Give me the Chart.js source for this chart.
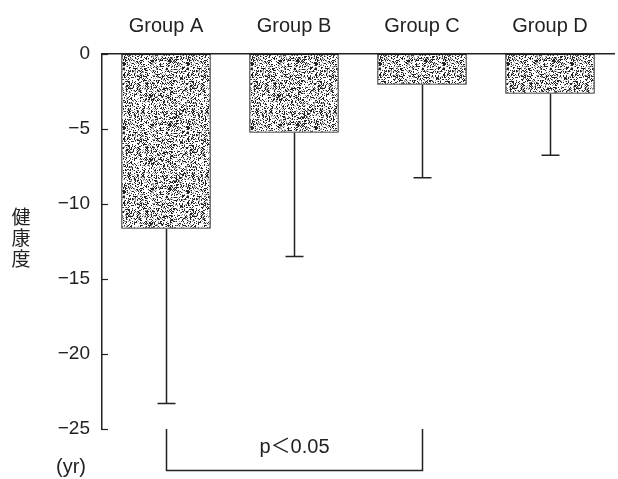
<!DOCTYPE html>
<html>
<head>
<meta charset="utf-8">
<script src="https://cdn.jsdelivr.net/npm/chart.js@4.4.1/dist/chart.umd.min.js"></script>
<style>
  html, body { margin: 0; padding: 0; background: #fff; }
  #wrap { width: 618px; height: 479px; position: relative; }
</style>
</head>
<body>
<div id="wrap"><canvas id="chart"></canvas></div>
<script>
// data
var groups = ["Group A", "Group B", "Group C", "Group D"];
var meanValues = [-11.65, -5.25, -2.05, -2.65];
var errorEnds = [-23.3, -13.5, -8.25, -6.75];
var yTicks = [0, -5, -10, -15, -20, -25];

// speckled fill like the printed stipple
function makeStipple() {
    var c = document.createElement("canvas");
    c.width = 64; c.height = 64;
    var g = c.getContext("2d");
    g.fillStyle = "#fff";
    g.fillRect(0, 0, 64, 64);
    var seed = 12345;
    function rnd() { seed = (seed * 1103515245 + 12345) & 0x7fffffff; return seed / 0x7fffffff; }
    for (var y = 0; y < 64; y++) {
        for (var x = 0; x < 64; x++) {
            var r = rnd();
            if (r < 0.26) { g.fillStyle = "#222"; g.fillRect(x, y, 1, 1); }
            else if (r < 0.40) { g.fillStyle = "#999"; g.fillRect(x, y, 1, 1); }
        }
    }
    return g.createPattern(c, "repeat");
}

function fmt(v) {
    return v < 0 ? "\u2212" + Math.abs(v) : String(v);
}

// error bars, inside ticks, side texts, significance bracket
var extras = {
    id: "extras",
    afterDatasetsDraw: function(chart) {
        var ctx = chart.ctx;
        var y = chart.scales.y;
        var meta = chart.getDatasetMeta(0);
        ctx.save();
        ctx.strokeStyle = "#222";
        ctx.lineWidth = 1.5;
        meta.data.forEach(function(bar, i) {
            var x = Math.round(bar.x) + 0.5;
            var y0 = y.getPixelForValue(meanValues[i]);
            var y1 = y.getPixelForValue(errorEnds[i]);
            ctx.beginPath();
            ctx.moveTo(x, y0); ctx.lineTo(x, y1);
            ctx.moveTo(x - 9, y1); ctx.lineTo(x + 9, y1);
            ctx.stroke();
        });

        // tick marks pointing into the plot
        ctx.lineWidth = 1.2;
        var ax = chart.chartArea.left;
        yTicks.forEach(function(t) {
            var py = Math.round(y.getPixelForValue(t)) + 0.5;
            ctx.beginPath();
            ctx.moveTo(ax, py); ctx.lineTo(ax + 6, py);
            ctx.stroke();
        });

        // y title, stacked characters
        ctx.fillStyle = "#222";
        ctx.font = "19px 'Noto Sans CJK JP'";
        ctx.textAlign = "center";
        ctx.textBaseline = "middle";
        ["健", "康", "度"].forEach(function(ch, i) {
            ctx.fillText(ch, 21, 217 + i * 21);
        });
        ctx.font = "20px 'Liberation Sans', Arial, sans-serif";
        ctx.fillText("(yr)", 71, 467);

        // bracket between A and C
        var xs = chart.scales.x;
        var xa = Math.round(xs.getPixelForValue(0)) + 0.5;
        var xc = Math.round(xs.getPixelForValue(2)) + 0.5;
        var top = chart.chartArea.bottom;
        var bot = 470.5;
        ctx.lineWidth = 1.5;
        ctx.beginPath();
        ctx.moveTo(xa, top); ctx.lineTo(xa, bot); ctx.lineTo(xc, bot); ctx.lineTo(xc, top);
        ctx.stroke();
        ctx.font = "20px 'Liberation Sans', 'Noto Sans CJK JP', sans-serif";
        ctx.fillText("p\uFF1C0.05", (xa + xc) / 2, 447);
        ctx.restore();
    }
};

var ctx = document.getElementById("chart").getContext("2d");
var chart = new Chart(ctx, {
    type: "bar",
    data: {
        labels: groups,
        datasets: [{
            data: meanValues,
            backgroundColor: makeStipple(),
            borderColor: "#222",
            borderWidth: 1.3,
            borderSkipped: false,
            barPercentage: 0.7,
            categoryPercentage: 1.0
        }]
    },
    options: {
        responsive: true,
        maintainAspectRatio: false,
        animation: false,
        layout: { padding: { top: 4, right: 4, bottom: 50, left: 0 } },
        plugins: {
            legend: { display: false },
            tooltip: { enabled: false }
        },
        scales: {
            x: {
                position: "top",
                grid: { display: false, drawTicks: false },
                border: { display: true, color: "#222", width: 1.5 },
                afterFit: function(scale) { scale.height = 50; },
                ticks: {
                    color: "#222",
                    padding: 16,
                    font: { family: "'Liberation Sans', Arial, sans-serif", size: 20 }
                }
            },
            y: {
                min: -25,
                max: 0,
                grid: { display: false, drawTicks: false },
                border: { display: true, color: "#222", width: 1.5 },
                afterFit: function(scale) { scale.width = 102; },
                ticks: {
                    stepSize: 5,
                    color: "#222",
                    padding: 12,
                    font: { family: "'Liberation Sans', Arial, sans-serif", size: 19 },
                    callback: function(v) { return fmt(v); }
                }
            }
        }
    },
    plugins: [extras]
});
</script>
</body>
</html>
